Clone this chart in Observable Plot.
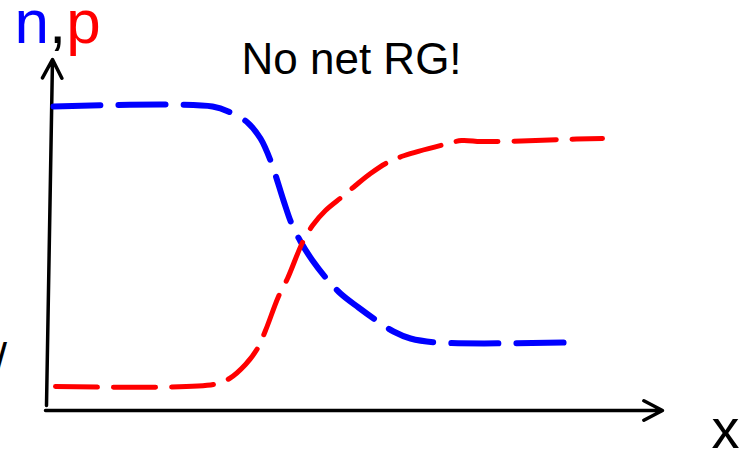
<!DOCTYPE html>
<html><head><meta charset="utf-8">
<script src="https://cdn.jsdelivr.net/npm/d3@7"></script>
<script src="https://cdn.jsdelivr.net/npm/@observablehq/plot@0.6"></script>
<style>html,body{margin:0;padding:0;background:#fff;overflow:hidden}</style>
</head><body><div id="chart"></div>
<script>
// Electron concentration n (blue) vs position x
const nX = [7, 166, 184, 201, 214, 224, 237, 245, 254, 266, 280, 294, 312, 330, 347, 364, 391, 524];
const nY = [304, 304, 298, 288, 272, 250, 210, 187, 169, 150, 132, 117, 103, 90, 79, 72, 68, 68];
// Hole concentration p (red) vs position x
const pX = [9, 167, 183, 199, 211, 219, 232, 241, 256, 266, 279, 296, 309, 324, 341, 358, 398, 415, 434, 456, 514, 556];
const pY = [24, 26, 32, 46, 62, 80, 114, 132, 168, 185, 200, 214, 225, 237, 248, 255, 266, 270, 269, 269, 271, 272];
// Axis arrows (start -> tip)
const axisNames = ["x", "n,p"];
const axisFrom = [[-1, 0], [0, 5]];
const axisTo = [[616, 0], [6, 351]];
// Text labels
const labelText = ["n", ",", "p", "No net RG!", "x", "/"];
const labelX = [-32, 2.5, 19.7, 195, 665, -52];
const labelY = [368, 368, 368, 337, -37, 37];
const labelColor = ["#0000ff", "#000000", "#ff0000", "#000000", "#000000", "#000000"];
const labelSize = [62, 62, 62, 44, 56, 45];

const nData = nX.map((x, i) => ({x, y: nY[i]}));
const pData = pX.map((x, i) => ({x, y: pY[i]}));
const axes = axisNames.map((name, i) => ({name, x1: axisFrom[i][0], y1: axisFrom[i][1], x2: axisTo[i][0], y2: axisTo[i][1]}));
const labels = labelText.map((text, i) => ({text, x: labelX[i], y: labelY[i], color: labelColor[i], size: labelSize[i]}));

const font = "'Liberation Sans', Arial, sans-serif";
const textMarks = labels.map(d => Plot.text([d], {
  x: "x", y: "y", text: "text", fill: d.color, fontSize: d.size,
  textAnchor: "start", lineAnchor: "bottom", fontFamily: font
}));

const chart = Plot.plot({
  width: 750,
  height: 454,
  margin: 0,
  x: {domain: [-46, 704], axis: null},
  y: {domain: [-44, 410], axis: null},
  style: {background: "white", overflow: "visible"},
  marks: [
    Plot.arrow(axes, {x1: "x1", y1: "y1", x2: "x2", y2: "y2", stroke: "black", strokeWidth: 3.5, headLength: 9, headAngle: 55}),
    Plot.line(nData, {x: "x", y: "y", stroke: "#0000ff", strokeWidth: 6, strokeDasharray: "47,18", curve: "catmull-rom"}),
    Plot.line(pData, {x: "x", y: "y", stroke: "#ff0000", strokeWidth: 5, strokeDasharray: "42,16", curve: "catmull-rom"}),
    ...textMarks
  ]
});
document.getElementById("chart").append(chart);
</script>
</body></html>
